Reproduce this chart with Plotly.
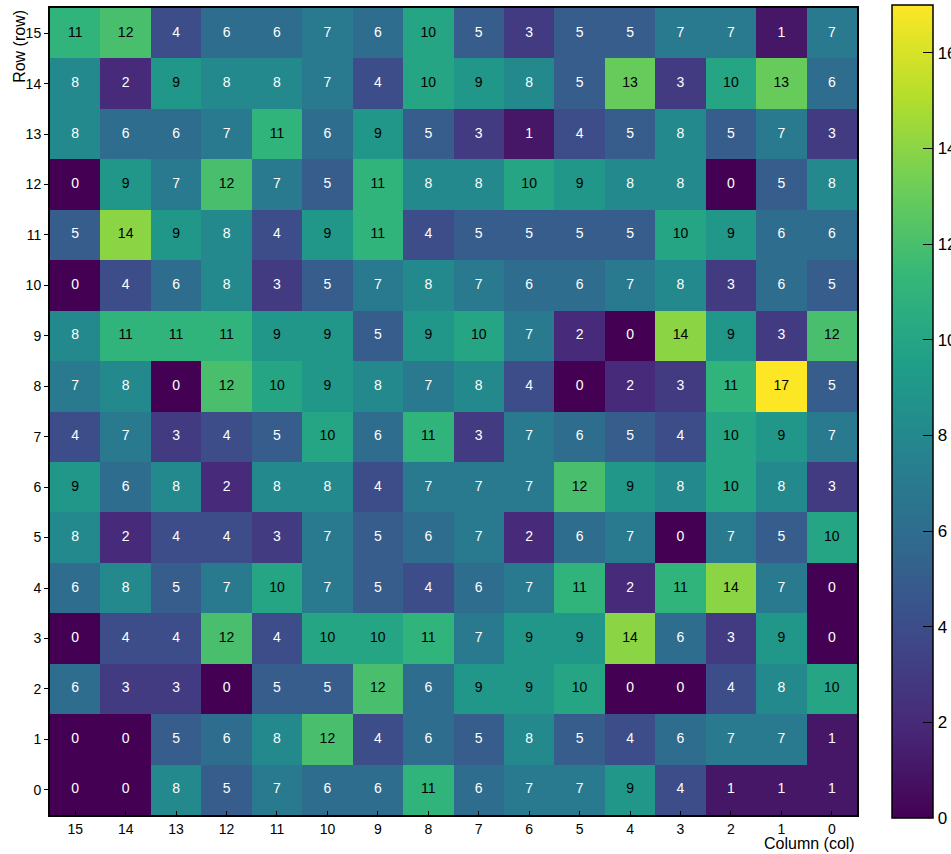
import plotly.graph_objects as go

columns = [15, 14, 13, 12, 11, 10, 9, 8, 7, 6, 5, 4, 3, 2, 1, 0]
rows = list(range(16))

# values per row, listed in display order (column 15 ... column 0)
row_0 = [0, 0, 8, 5, 7, 6, 6, 11, 6, 7, 7, 9, 4, 1, 1, 1]
row_1 = [0, 0, 5, 6, 8, 12, 4, 6, 5, 8, 5, 4, 6, 7, 7, 1]
row_2 = [6, 3, 3, 0, 5, 5, 12, 6, 9, 9, 10, 0, 0, 4, 8, 10]
row_3 = [0, 4, 4, 12, 4, 10, 10, 11, 7, 9, 9, 14, 6, 3, 9, 0]
row_4 = [6, 8, 5, 7, 10, 7, 5, 4, 6, 7, 11, 2, 11, 14, 7, 0]
row_5 = [8, 2, 4, 4, 3, 7, 5, 6, 7, 2, 6, 7, 0, 7, 5, 10]
row_6 = [9, 6, 8, 2, 8, 8, 4, 7, 7, 7, 12, 9, 8, 10, 8, 3]
row_7 = [4, 7, 3, 4, 5, 10, 6, 11, 3, 7, 6, 5, 4, 10, 9, 7]
row_8 = [7, 8, 0, 12, 10, 9, 8, 7, 8, 4, 0, 2, 3, 11, 17, 5]
row_9 = [8, 11, 11, 11, 9, 9, 5, 9, 10, 7, 2, 0, 14, 9, 3, 12]
row_10 = [0, 4, 6, 8, 3, 5, 7, 8, 7, 6, 6, 7, 8, 3, 6, 5]
row_11 = [5, 14, 9, 8, 4, 9, 11, 4, 5, 5, 5, 5, 10, 9, 6, 6]
row_12 = [0, 9, 7, 12, 7, 5, 11, 8, 8, 10, 9, 8, 8, 0, 5, 8]
row_13 = [8, 6, 6, 7, 11, 6, 9, 5, 3, 1, 4, 5, 8, 5, 7, 3]
row_14 = [8, 2, 9, 8, 8, 7, 4, 10, 9, 8, 5, 13, 3, 10, 13, 6]
row_15 = [11, 12, 4, 6, 6, 7, 6, 10, 5, 3, 5, 5, 7, 7, 1, 7]

z = [row_0, row_1, row_2, row_3, row_4, row_5, row_6, row_7,
     row_8, row_9, row_10, row_11, row_12, row_13, row_14, row_15]

zmax = 17
colorbar_major = [0, 2, 4, 6, 8, 10, 12, 14, 16]
colorbar_minor = [1, 3, 5, 7, 9, 11, 13, 15, 17]
FONT = "Liberation Sans, Arial, sans-serif"

# geometry (pixels)
W, H = 951, 854
L, R, T, B = 50, 857, 8, 815
PW, PH = R - L, B - T
CB_X0, CB_TOP, CB_BOT, CB_W = 892, 5, 818, 41


def make_colorbar(tickvals, ticktext, ticklen):
    return dict(
        x=(CB_X0 - L) / PW, xanchor="left", xpad=0,
        y=(B - (CB_TOP + CB_BOT) / 2) / PH, yanchor="middle", ypad=0,
        lenmode="pixels", len=CB_BOT - CB_TOP,
        thicknessmode="pixels", thickness=CB_W,
        outlinewidth=1.5, outlinecolor="black",
        tickvals=tickvals, ticktext=ticktext,
        ticks="inside", ticklen=ticklen, tickwidth=1, tickcolor="black",
        tickfont=dict(family=FONT, size=17, color="black"),
    )


fig = go.Figure()

fig.add_trace(go.Heatmap(
    x=columns, y=rows, z=z, zmin=0, zmax=zmax,
    colorscale="Viridis", hoverinfo="skip",
    colorbar=make_colorbar(colorbar_major, [str(v) for v in colorbar_major], 10),
))

# minor ticks on the colour bar through an empty overlay trace
fig.add_trace(go.Heatmap(
    x=[0], y=[0], z=[[None]], zmin=0, zmax=zmax, zauto=False,
    colorscale="Viridis", hoverinfo="skip",
    colorbar=make_colorbar(colorbar_minor, [""] * len(colorbar_minor), 5),
))

# cell labels
wx, wy, wt, bx, by, bt = [], [], [], [], [], []
for r, vals in zip(rows, z):
    for c, v in zip(columns, vals):
        if v >= 9:
            bx.append(c); by.append(r); bt.append(str(v))
        else:
            wx.append(c); wy.append(r); wt.append(str(v))

fig.add_trace(go.Scatter(x=wx, y=wy, text=wt, mode="text", hoverinfo="skip",
                         textfont=dict(family=FONT, size=14, color="white"),
                         showlegend=False))
fig.add_trace(go.Scatter(x=bx, y=by, text=bt, mode="text", hoverinfo="skip",
                         textfont=dict(family=FONT, size=14, color="black"),
                         showlegend=False))

axis_common = dict(showgrid=False, zeroline=False, linecolor="black", linewidth=2,
                   tickcolor="black", tickwidth=1, automargin=False,
                   tickfont=dict(family=FONT, size=14, color="black"))

fig.update_layout(
    width=W, height=H,
    margin=dict(l=L, r=W - R, t=T, b=H - B, pad=0, autoexpand=False),
    plot_bgcolor="white", paper_bgcolor="white",
    showlegend=False,
    xaxis=dict(range=[15.5, -0.5], tickvals=columns, ticks="inside", ticklen=4,
               showline=True, mirror=True, **axis_common),
    yaxis=dict(range=[-0.5, 15.5], tickvals=rows, ticks="outside", ticklen=4,
               showline=True, mirror=True, **axis_common),
    xaxis2=dict(range=[15.5, -0.5], overlaying="x", side="top", tickvals=columns,
                ticks="inside", ticklen=4, showticklabels=False, showline=False,
                showgrid=False, zeroline=False, tickcolor="black", tickwidth=1,
                automargin=False),
    yaxis2=dict(range=[-0.5, 15.5], overlaying="y", side="right", tickvals=rows,
                ticks="inside", ticklen=4, showticklabels=False, showline=False,
                showgrid=False, zeroline=False, tickcolor="black", tickwidth=1,
                automargin=False),
    annotations=[
        dict(text="Row (row)", xref="paper", yref="paper", x=-0.038, y=1.0,
             xanchor="center", yanchor="top", textangle=-90, showarrow=False,
             font=dict(family=FONT, size=16, color="black")),
        dict(text="Column (col)", xref="paper", yref="paper", x=1.0, y=-0.022,
             xanchor="right", yanchor="top", showarrow=False,
             font=dict(family=FONT, size=16, color="black")),
    ],
)

fig.write_html("out.html",
               config={"displayModeBar": False},
               post_script="document.body.style.margin='0';"
                           "document.documentElement.style.overflow='hidden';")
